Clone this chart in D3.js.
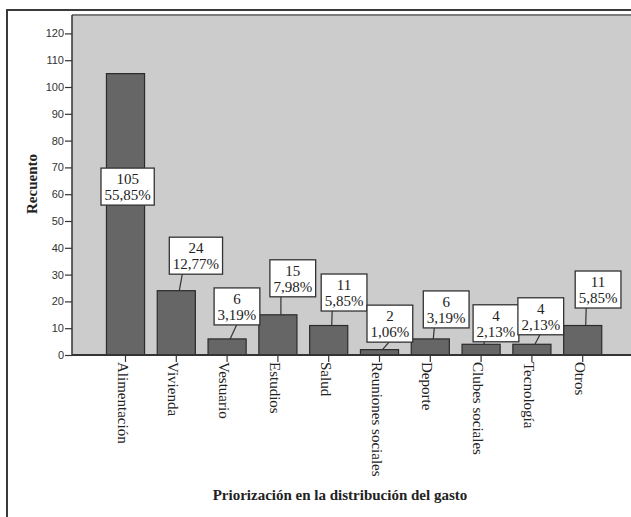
<!DOCTYPE html>
<html>
<head>
<meta charset="utf-8">
<script src="https://cdn.jsdelivr.net/npm/d3@7"></script>
<style>
  html, body { margin: 0; padding: 0; background: #fff; }
  svg { display: block; }
</style>
</head>
<body>
<svg id="chart" width="631" height="517"></svg>
<script>
// Gasto priorizado: recuento y porcentaje por categoría
const categories = ["Alimentación", "Vivienda", "Vestuario", "Estudios", "Salud",
  "Reuniones sociales", "Deporte", "Clubes sociales", "Tecnología", "Otros"];
const counts = [105, 24, 6, 15, 11, 2, 6, 4, 4, 11];
const percents = ["55,85%", "12,77%", "3,19%", "7,98%", "5,85%", "1,06%", "3,19%", "2,13%", "2,13%", "5,85%"];
const yTicks = [0, 10, 20, 30, 40, 50, 60, 70, 80, 90, 100, 110, 120];

// Label box placement: [box left relative to bar centre, gap between box bottom and bar top, leader x inside box]
const labelPlacement = [
  [-24.5, -131.5, null],
  [-7, 16.5, 13],
  [-13, 14, 22.5],
  [-8, 18, 11],
  [-7.5, 14.5, 11],
  [-12.5, 7.5, 22],
  [-7, 11, 11],
  [-8, 2.5, 11],
  [-14, 9.5, 22],
  [-7.5, 17.5, 11]
];

const svg = d3.select("#chart");
const plot = { left: 72, right: 631, top: 15, bottom: 355 };

const x = d3.scaleBand()
  .domain(categories)
  .range([100.1, 608.1])
  .paddingInner(0.25)
  .paddingOuter(0.125);

const y = d3.scaleLinear()
  .domain([0, 120])
  .range([plot.bottom, 33.4]);

// Outer frame
svg.append("line").attr("x1", 7).attr("x2", 631).attr("y1", 10).attr("y2", 10)
  .attr("stroke", "#3a3a3a").attr("stroke-width", 2);
svg.append("line").attr("x1", 7).attr("x2", 7).attr("y1", 9).attr("y2", 517)
  .attr("stroke", "#3a3a3a").attr("stroke-width", 2);

// Plot background
svg.append("rect")
  .attr("x", plot.left).attr("y", plot.top)
  .attr("width", plot.right - plot.left).attr("height", plot.bottom - plot.top)
  .attr("fill", "#cccccc");
svg.append("line").attr("x1", plot.left).attr("x2", plot.right)
  .attr("y1", plot.top).attr("y2", plot.top)
  .attr("stroke", "#7c7c7c").attr("stroke-width", 2);

// Bars
svg.append("g").selectAll("rect")
  .data(categories)
  .join("rect")
  .attr("x", d => x(d))
  .attr("y", (d, i) => y(counts[i]))
  .attr("width", x.bandwidth())
  .attr("height", (d, i) => y(0) - y(counts[i]))
  .attr("fill", "#666666")
  .attr("stroke", "#2b2b2b")
  .attr("stroke-width", 1.2);

// Y axis
const yAxis = svg.append("g")
  .attr("transform", `translate(${plot.left},0)`)
  .call(d3.axisLeft(y).tickValues(yTicks).tickSize(7).tickPadding(1));
yAxis.select(".domain").attr("stroke", "#333").attr("stroke-width", 1.5)
  .attr("d", `M0,${plot.top}V${plot.bottom}`);
yAxis.selectAll(".tick line").attr("stroke", "#333").attr("stroke-width", 1.2);
yAxis.selectAll(".tick text")
  .attr("font-family", "Liberation Sans, Arial, sans-serif")
  .attr("font-size", 11).attr("fill", "#333");

// X axis
const xAxis = svg.append("g")
  .attr("transform", `translate(0,${plot.bottom})`)
  .call(d3.axisBottom(x).tickSize(7).tickSizeOuter(0));
xAxis.select(".domain").attr("stroke", "#333").attr("stroke-width", 1.8)
  .attr("d", `M${plot.left},0H${plot.right}`);
xAxis.selectAll(".tick line").attr("stroke", "#333").attr("stroke-width", 1.2);
xAxis.selectAll(".tick text")
  .attr("font-family", "Liberation Serif, 'DejaVu Serif', serif")
  .attr("font-size", 15).attr("fill", "#222")
  .attr("text-anchor", "start")
  .attr("dy", null)
  .attr("transform", "translate(0,7) rotate(90)")
  .attr("x", 0).attr("y", 8);

// Value labels with leader lines
const labels = svg.append("g");
const font = "Liberation Serif, 'DejaVu Serif', serif";
categories.forEach((c, i) => {
  const cx = x(c) + x.bandwidth() / 2;
  const top = y(counts[i]);
  const [dx, gap, lead] = labelPlacement[i];
  const g = labels.append("g");
  const t1 = g.append("text").text(counts[i]);
  const t2 = g.append("text").text(percents[i]);
  g.selectAll("text").attr("font-family", font).attr("font-size", 15)
    .attr("fill", "#222").attr("text-anchor", "middle");
  const w = Math.max(t1.node().getComputedTextLength(), t2.node().getComputedTextLength()) + 7;
  const h = 37;
  const bx = cx + dx;
  const by = top - gap - h;
  if (lead !== null) {
    labels.insert("line", ":first-child")
      .attr("x1", bx + lead).attr("y1", by + h)
      .attr("x2", cx + 3).attr("y2", top)
      .attr("stroke", "#333").attr("stroke-width", 1.2);
  }
  g.insert("rect", ":first-child")
    .attr("x", bx).attr("y", by).attr("width", w).attr("height", h)
    .attr("fill", "#fff").attr("stroke", "#333").attr("stroke-width", 1.3);
  t1.attr("x", bx + w / 2).attr("y", by + 16);
  t2.attr("x", bx + w / 2).attr("y", by + 32);
});

// Axis titles
svg.append("text")
  .attr("transform", `translate(37,184) rotate(-90)`)
  .attr("text-anchor", "middle")
  .attr("font-family", font).attr("font-weight", "bold")
  .attr("font-size", 15).attr("fill", "#222")
  .text("Recuento");

svg.append("text")
  .attr("x", 340).attr("y", 500)
  .attr("text-anchor", "middle")
  .attr("font-family", font).attr("font-weight", "bold")
  .attr("font-size", 15).attr("fill", "#222")
  .text("Priorización en la distribución del gasto");
</script>
</body>
</html>
